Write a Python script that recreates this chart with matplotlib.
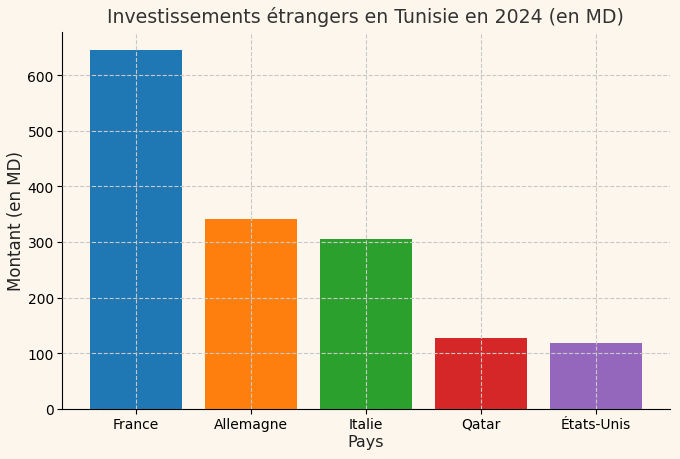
import matplotlib
matplotlib.use('Agg')
import matplotlib.pyplot as plt

pays = ['France', 'Allemagne', 'Italie', 'Qatar', 'États-Unis']
montants = [645, 341, 306, 127, 118]
couleurs = ['#1f77b4', '#ff7f0e', '#2ca02c', '#d62728', '#9467bd']

bg = '#fdf6ec'

fig, ax = plt.subplots(figsize=(6.8, 4.6), dpi=100)
fig.patch.set_facecolor(bg)
ax.set_facecolor(bg)

ax.bar(pays, montants, color=couleurs, width=0.8, zorder=2)

ax.set_title('Investissements étrangers en Tunisie en 2024 (en MD)', fontsize=13.6, color='#333333', pad=7)
ax.set_xlabel('Pays', fontsize=11.5, color='#222222', labelpad=2)
ax.set_ylabel('Montant (en MD)', fontsize=12, color='#222222', labelpad=2)
ax.tick_params(labelsize=10, length=3.3, pad=2.5)
ax.grid(True, linestyle='--', color='#c8c8c8', linewidth=0.8, zorder=3)
ax.set_axisbelow(False)
ax.spines['top'].set_visible(False)
ax.spines['right'].set_visible(False)

plt.subplots_adjust(left=0.091, right=0.985, top=0.928, bottom=0.109)
plt.savefig('out.png', dpi=100, facecolor=bg)
